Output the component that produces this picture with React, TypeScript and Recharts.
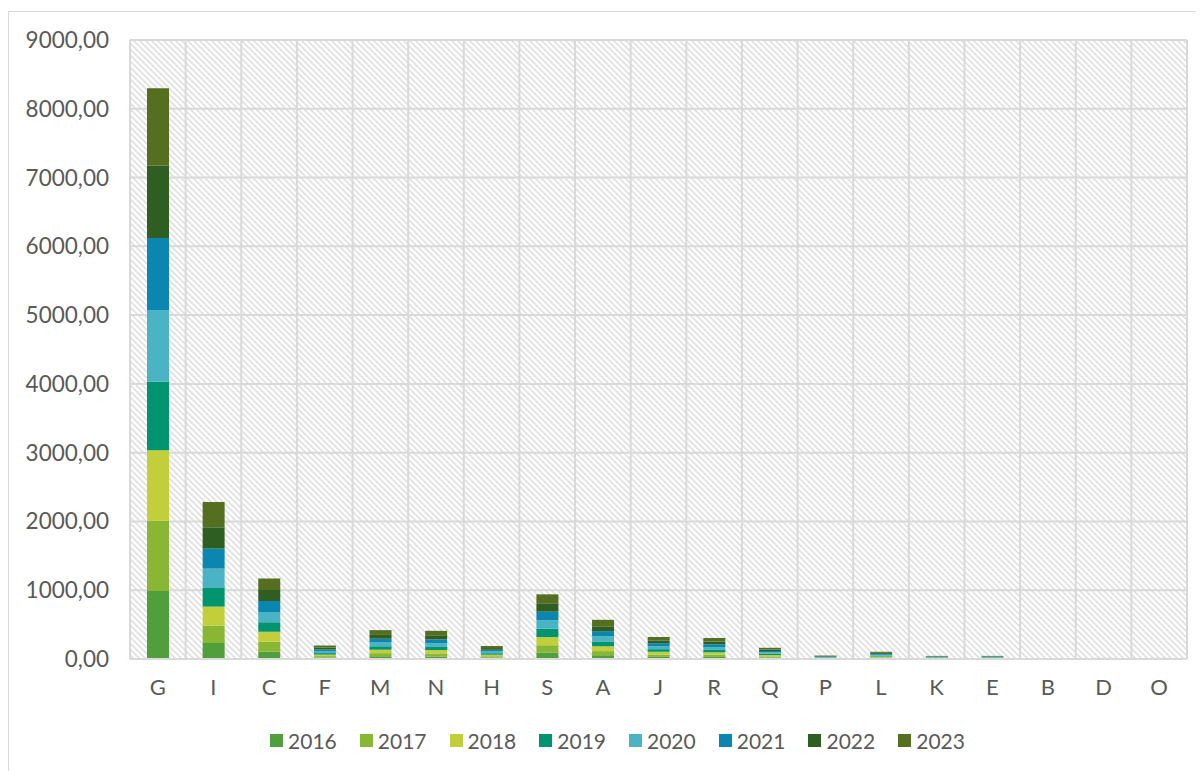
import { BarChart, Bar, XAxis, YAxis, CartesianGrid, Legend } from 'recharts';

const categories = ['G', 'I', 'C', 'F', 'M', 'N', 'H', 'S', 'A', 'J', 'R', 'Q', 'P', 'L', 'K', 'E', 'B', 'D', 'O'];

const y2016 = [990, 233, 110, 20, 40, 35, 20, 95, 55, 30, 30, 18, 5, 12, 5, 5, 1, 2, 2];
const y2017 = [1020, 253, 140, 22, 45, 45, 20, 105, 60, 35, 32, 20, 5, 12, 5, 5, 1, 2, 2];
const y2018 = [1025, 276, 145, 22, 50, 50, 22, 118, 70, 40, 35, 20, 6, 12, 6, 6, 1, 2, 2];
const y2019 = [995, 270, 140, 22, 50, 45, 22, 122, 70, 38, 35, 18, 6, 12, 6, 6, 1, 2, 2];
const y2020 = [1045, 282, 150, 25, 55, 55, 25, 123, 75, 42, 40, 20, 7, 13, 6, 6, 1, 2, 2];
const y2021 = [1045, 291, 160, 27, 55, 55, 25, 125, 75, 45, 42, 20, 7, 14, 6, 6, 1, 2, 2];
const y2022 = [1055, 310, 160, 28, 55, 60, 25, 122, 70, 40, 40, 22, 7, 14, 6, 6, 2, 2, 2];
const y2023 = [1125, 368, 165, 30, 70, 65, 30, 130, 95, 50, 51, 25, 7, 16, 5, 5, 2, 1, 1];

const yTicks = [0, 1000, 2000, 3000, 4000, 5000, 6000, 7000, 8000, 9000];

const series = [
  { key: '2016', values: y2016, color: '#509e3c' },
  { key: '2017', values: y2017, color: '#8ab733' },
  { key: '2018', values: y2018, color: '#c3cf3a' },
  { key: '2019', values: y2019, color: '#00946f' },
  { key: '2020', values: y2020, color: '#4bb4c4' },
  { key: '2021', values: y2021, color: '#0a86b0' },
  { key: '2022', values: y2022, color: '#2f5e22' },
  { key: '2023', values: y2023, color: '#556f21' },
];

const data = categories.map((cat, i) => {
  const row: Record<string, string | number> = { cat };
  series.forEach((s) => {
    row[s.key] = s.values[i];
  });
  return row;
});

const textColor = '#595959';
const gridColor = '#d9d9d9';
const font = 'Lato, sans-serif';

const fmt = (v: number) => v.toFixed(2).replace('.', ',');

// vertical grid lines sit between categories, not on them
const boundaries = ({ offset }: any) => {
  const step = offset.width / categories.length;
  return categories.map((_, i) => offset.left + i * step).concat(offset.left + offset.width);
};

const LegendContent = () => (
  <div
    style={{
      display: 'flex',
      justifyContent: 'center',
      paddingTop: 19,
      paddingLeft: 62,
      fontFamily: font,
      fontSize: 21,
      color: textColor,
    }}
  >
    {series.map((s) => (
      <div key={s.key} style={{ display: 'flex', alignItems: 'center', marginRight: 23 }}>
        <span style={{ width: 13, height: 13, background: s.color, marginRight: 5, display: 'inline-block' }} />
        <span>{s.key}</span>
      </div>
    ))}
  </div>
);

export default function App() {
  return (
    <div
      style={{
        marginTop: 3,
        width: 1192,
        height: 762,
        border: `1px solid ${gridColor}`,
        boxSizing: 'border-box',
        background: '#fff',
      }}
    >
      <BarChart
        width={1190}
        height={758}
        data={data}
        margin={{ top: 28, right: 12, left: 0, bottom: 11 }}
        barSize={22}
      >
        <defs>
          <pattern id="hatch" patternUnits="userSpaceOnUse" width={6} height={6}>
            <rect width={6} height={6} fill="#ffffff" />
            <path d="M-1,5 l2,2 M0,0 l6,6 M5,-1 l2,2" stroke="#dcdcdc" strokeWidth={1.5} />
          </pattern>
        </defs>
        <CartesianGrid
          stroke={gridColor}
          strokeWidth={2}
          fill="url(#hatch)"
          fillOpacity={1}
          verticalCoordinatesGenerator={boundaries}
        />
        <XAxis
          dataKey="cat"
          height={50}
          axisLine={{ stroke: gridColor, strokeWidth: 2 }}
          tickLine={false}
          tickSize={0}
          tickMargin={20}
          tick={{ fill: textColor, fontSize: 22, fontFamily: font }}
          interval={0}
        />
        <YAxis
          width={121}
          domain={[0, 9000]}
          ticks={yTicks}
          axisLine={false}
          tickLine={false}
          tickSize={0}
          tickMargin={21}
          tickFormatter={fmt}
          tick={{ fill: textColor, fontSize: 22.5, fontFamily: font }}
        />
        <Legend verticalAlign="bottom" height={50} content={<LegendContent />} />
        {series.map((s) => (
          <Bar key={s.key} dataKey={s.key} stackId="a" fill={s.color} isAnimationActive={false} />
        ))}
      </BarChart>
    </div>
  );
}
